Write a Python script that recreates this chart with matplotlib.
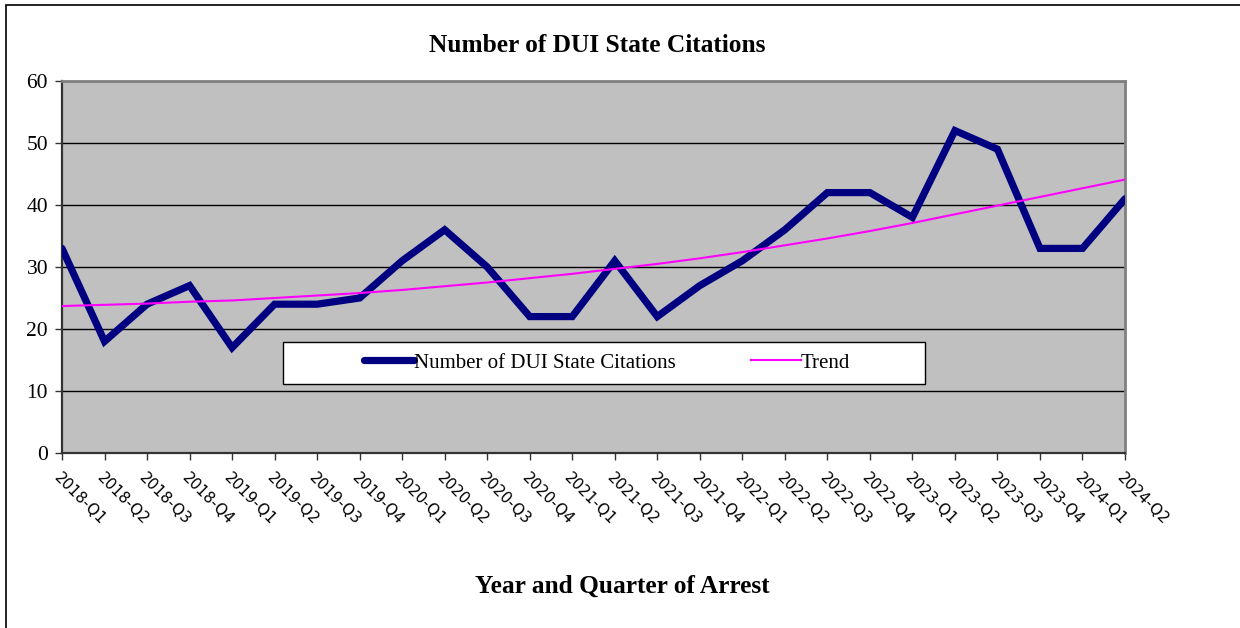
import matplotlib
matplotlib.use("Agg")
import matplotlib.pyplot as plt
from matplotlib.patches import Rectangle

# quarterly DUI state citations, 2018-Q1 .. 2024-Q2
quarters = ['2018-Q1', '2018-Q2', '2018-Q3', '2018-Q4',
            '2019-Q1', '2019-Q2', '2019-Q3', '2019-Q4',
            '2020-Q1', '2020-Q2', '2020-Q3', '2020-Q4',
            '2021-Q1', '2021-Q2', '2021-Q3', '2021-Q4',
            '2022-Q1', '2022-Q2', '2022-Q3', '2022-Q4',
            '2023-Q1', '2023-Q2', '2023-Q3', '2023-Q4',
            '2024-Q1', '2024-Q2']
citations = [33, 18, 24, 27, 17, 24, 24, 25, 31, 36, 30, 22, 22,
             31, 22, 27, 31, 36, 42, 42, 38, 52, 49, 33, 33, 41]
# trend line
trend = [23.7, 23.9, 24.1, 24.4, 24.6, 25.0, 25.4, 25.8, 26.3, 26.9,
         27.5, 28.2, 28.9, 29.7, 30.5, 31.4, 32.4, 33.5, 34.6, 35.8,
         37.1, 38.5, 39.9, 41.3, 42.7, 44.1]

serif = 'Liberation Serif'

fig = plt.figure(figsize=(12.4, 6.28), dpi=100)
ax = fig.add_axes([62/1240, 1 - 453/628, 1063/1240, 372/628])
ax.set_facecolor('#C0C0C0')

x = list(range(len(quarters)))
ax.plot(x, citations, color='#000080', lw=5.2, solid_joinstyle='miter',
        solid_capstyle='round', label='Number of DUI State Citations', zorder=3)
ax.plot(x, trend, color='#FF00FF', lw=1.5, label='Trend', zorder=4)

ax.set_xlim(0, len(quarters) - 1)
ax.set_ylim(0, 60)
ax.set_yticks(range(0, 61, 10))
ax.yaxis.grid(True, color='black', lw=1.0)
ax.set_axisbelow(True)

ax.set_xticks(x)
ax.set_xticklabels(quarters, rotation=-45, ha='left', va='top',
                   rotation_mode='anchor', fontsize=11, family='DejaVu Sans')
for lab in ax.get_yticklabels():
    lab.set_family(serif)
    lab.set_fontsize(15.5)
ax.tick_params(axis='both', direction='out', length=5, width=1, color='#333333')
ax.tick_params(axis='x', pad=7)
ax.tick_params(axis='y', pad=5)

for side in ['left', 'bottom']:
    ax.spines[side].set_color('#333333')
    ax.spines[side].set_linewidth(1.6)
for side in ['top', 'right']:
    ax.spines[side].set_color('#808080')
    ax.spines[side].set_linewidth(2)

# legend box drawn separately, entries centred inside it
ax.add_patch(Rectangle((0.208, 0.1855), 0.604, 0.1125, transform=ax.transAxes,
                       facecolor='white', edgecolor='black', lw=1, zorder=5))
leg = ax.legend(loc='center', bbox_to_anchor=(0.513, 0.242), ncol=2,
                frameon=False, prop={'family': serif, 'size': 15},
                handlelength=2.4, handletextpad=0.0, borderaxespad=0,
                columnspacing=3.6)
leg.set_zorder(6)

fig.text(597/1240, 1 - 45/628, 'Number of DUI State Citations', ha='center',
         va='center', fontsize=18.3, fontweight='bold', family=serif)
fig.text(622/1240, 1 - 586/628, 'Year and Quarter of Arrest', ha='center',
         va='center', fontsize=18.3, fontweight='bold', family=serif)

# outer chart border
fig.patches.append(Rectangle((6/1240, -0.1), 1.2, 1 - 5/628 + 0.1,
                             transform=fig.transFigure, fill=False,
                             edgecolor='black', lw=1.2))

fig.savefig('out.png', dpi=100)
